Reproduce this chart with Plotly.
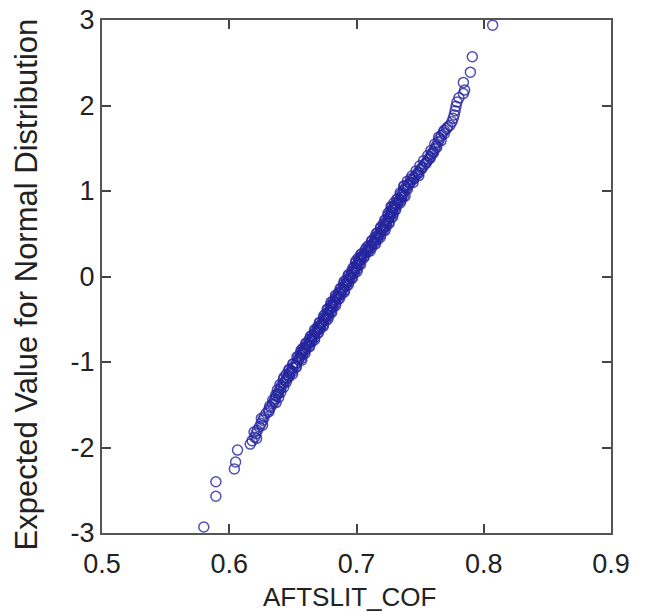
import plotly.graph_objects as go

# Sorted AFTSLIT_COF values (x) and expected normal values (y)
lower_x = [0.580, 0.5895, 0.5895, 0.604, 0.605, 0.6065, 0.6165]
lower_y = [-2.93, -2.57, -2.40, -2.25, -2.17, -2.03, -1.96]

tail_lo_x = [0.618, 0.620, 0.621, 0.622, 0.6236, 0.625, 0.6265, 0.6275, 0.629, 0.631, 0.6325,
             0.634, 0.6355, 0.636, 0.637, 0.6385, 0.639, 0.6405, 0.641, 0.6425, 0.644, 0.6455,
             0.6465, 0.6475, 0.6486, 0.650, 0.6515, 0.653]
tail_lo_y = [-1.92, -1.88, -1.84, -1.80, -1.76, -1.72, -1.68, -1.64, -1.60, -1.56, -1.53,
             -1.49, -1.46, -1.43, -1.40, -1.37, -1.34, -1.31, -1.28, -1.25, -1.22, -1.19,
             -1.16, -1.13, -1.10, -1.07, -1.04, -1.01]

tail_lo2_x = [0.6215, 0.6195, 0.6262, 0.6252, 0.6312, 0.6318, 0.6368, 0.6342, 0.6388, 0.6365,
              0.6405, 0.6378, 0.6428, 0.6398, 0.6448, 0.6425, 0.6470, 0.6448, 0.6495, 0.6470,
              0.6525, 0.6500]
tail_lo2_y = [-1.895, -1.82, -1.74, -1.66, -1.58, -1.515, -1.475, -1.445, -1.415, -1.385,
              -1.355, -1.325, -1.295, -1.265, -1.235, -1.205, -1.175, -1.145, -1.115, -1.085,
              -1.055, -1.025]

mid_x = [0.6545, 0.6552, 0.6561, 0.6570, 0.6581, 0.6590, 0.6603, 0.6615, 0.6628, 0.6641,
         0.6650, 0.6660, 0.6671, 0.6680, 0.6694, 0.6706, 0.6716, 0.6725, 0.6738, 0.6750,
         0.6761, 0.6770, 0.6779, 0.6786, 0.6796, 0.6805, 0.6815, 0.6825, 0.6834, 0.6842,
         0.6856, 0.6870, 0.6882, 0.6893, 0.6902, 0.6910, 0.6921, 0.6930, 0.6940, 0.6951,
         0.6962, 0.6975, 0.6985, 0.6995, 0.7002, 0.7010, 0.7017, 0.7026, 0.7036, 0.7052,
         0.7068, 0.7082, 0.7097, 0.7108, 0.7121, 0.7135, 0.7146, 0.7158, 0.7170, 0.7180,
         0.7192, 0.7203, 0.7214, 0.7224, 0.7233, 0.7242, 0.7252, 0.7260, 0.7267, 0.7274,
         0.7282, 0.7290, 0.7299, 0.7312, 0.7327, 0.7340, 0.7352, 0.7360, 0.7365]
mid_y = [-0.975, -0.950, -0.925, -0.900, -0.875, -0.850, -0.825, -0.800, -0.775, -0.750,
         -0.725, -0.700, -0.675, -0.650, -0.625, -0.600, -0.575, -0.550, -0.525, -0.500,
         -0.475, -0.450, -0.425, -0.400, -0.375, -0.350, -0.325, -0.300, -0.275, -0.250,
         -0.225, -0.200, -0.175, -0.150, -0.125, -0.100, -0.075, -0.050, -0.025, 0.000,
         0.025, 0.050, 0.075, 0.100, 0.125, 0.150, 0.175, 0.200, 0.225, 0.250,
         0.275, 0.300, 0.325, 0.350, 0.375, 0.400, 0.425, 0.450, 0.475, 0.500,
         0.525, 0.550, 0.575, 0.600, 0.625, 0.650, 0.675, 0.700, 0.725, 0.750,
         0.775, 0.800, 0.825, 0.850, 0.875, 0.900, 0.925, 0.950, 0.975]

mid2_x = [0.6565, 0.6542, 0.6580, 0.6562, 0.6600, 0.6580, 0.6625, 0.6605, 0.6650, 0.6628,
          0.6672, 0.6650, 0.6692, 0.6672, 0.6715, 0.6695, 0.6738, 0.6712, 0.6760, 0.6740,
          0.6782, 0.6758, 0.6798, 0.6775, 0.6815, 0.6795, 0.6838, 0.6815, 0.6855, 0.6835,
          0.6880, 0.6860, 0.6905, 0.6880, 0.6922, 0.6898, 0.6942, 0.6918, 0.6962, 0.6940,
          0.6985, 0.6962, 0.7005, 0.6982, 0.7020, 0.6995, 0.7035, 0.7012, 0.7060, 0.7040,
          0.7090, 0.7068, 0.7118, 0.7095, 0.7143, 0.7120, 0.7168, 0.7145, 0.7190, 0.7165,
          0.7212, 0.7188, 0.7235, 0.7210, 0.7255, 0.7230, 0.7272, 0.7248, 0.7288, 0.7262,
          0.7302, 0.7278, 0.7320, 0.7295, 0.7350, 0.7325, 0.7370, 0.7348]
mid2_y = [-0.9625, -0.9375, -0.9125, -0.8875, -0.8625, -0.8375, -0.8125, -0.7875, -0.7625, -0.7375,
          -0.7125, -0.6875, -0.6625, -0.6375, -0.6125, -0.5875, -0.5625, -0.5375, -0.5125, -0.4875,
          -0.4625, -0.4375, -0.4125, -0.3875, -0.3625, -0.3375, -0.3125, -0.2875, -0.2625, -0.2375,
          -0.2125, -0.1875, -0.1625, -0.1375, -0.1125, -0.0875, -0.0625, -0.0375, -0.0125, 0.0125,
          0.0375, 0.0625, 0.0875, 0.1125, 0.1375, 0.1625, 0.1875, 0.2125, 0.2375, 0.2625,
          0.2875, 0.3125, 0.3375, 0.3625, 0.3875, 0.4125, 0.4375, 0.4625, 0.4875, 0.5125,
          0.5375, 0.5625, 0.5875, 0.6125, 0.6375, 0.6625, 0.6875, 0.7125, 0.7375, 0.7625,
          0.7875, 0.8125, 0.8375, 0.8625, 0.8875, 0.9125, 0.9375, 0.9625]

mid3_x = [0.6430, 0.6498, 0.6468, 0.6527, 0.6502, 0.6570, 0.6532, 0.6595, 0.6565, 0.6632,
          0.6602, 0.6670, 0.6638, 0.6700, 0.6672, 0.6740, 0.6708, 0.6775, 0.6742, 0.6805,
          0.6770, 0.6835, 0.6800, 0.6865, 0.6835, 0.6905, 0.6872, 0.6935, 0.6902, 0.6968,
          0.6935, 0.7005, 0.6972, 0.7032, 0.6995, 0.7058, 0.7035, 0.7108, 0.7080, 0.7150,
          0.7120, 0.7188, 0.7155, 0.7225, 0.7192, 0.7256, 0.7222, 0.7285, 0.7247, 0.7308,
          0.7272, 0.7343, 0.7315, 0.7382, 0.7343, 0.7400, 0.7374, 0.7445, 0.7425, 0.7490]
mid3_y = [-1.18, -1.14, -1.10, -1.06, -1.02, -0.98, -0.94, -0.90, -0.86, -0.82,
          -0.78, -0.74, -0.70, -0.66, -0.62, -0.58, -0.54, -0.50, -0.46, -0.42,
          -0.38, -0.34, -0.30, -0.26, -0.22, -0.18, -0.14, -0.10, -0.06, -0.02,
          0.02, 0.06, 0.10, 0.14, 0.18, 0.22, 0.26, 0.30, 0.34, 0.38,
          0.42, 0.46, 0.50, 0.54, 0.58, 0.62, 0.66, 0.70, 0.74, 0.78,
          0.82, 0.86, 0.90, 0.94, 0.98, 1.02, 1.06, 1.10, 1.14, 1.18]

tail_hi_x = [0.7370, 0.7385, 0.7405, 0.7420, 0.7440, 0.7455, 0.7470, 0.7487, 0.7502, 0.7518,
             0.7533, 0.7550, 0.7565, 0.7578, 0.7590, 0.7602, 0.7615, 0.7628, 0.7641, 0.7653,
             0.7667, 0.7683, 0.7708, 0.7735, 0.7750, 0.7760, 0.7768, 0.7775, 0.7782, 0.7790]
tail_hi_y = [1.01, 1.04, 1.07, 1.10, 1.13, 1.16, 1.19, 1.22, 1.25, 1.28,
             1.31, 1.34, 1.37, 1.40, 1.43, 1.46, 1.49, 1.53, 1.57, 1.61,
             1.65, 1.69, 1.73, 1.77, 1.81, 1.85, 1.89, 1.94, 1.99, 2.04]

tail_hi2_x = [0.7392, 0.7372, 0.7418, 0.7400, 0.7450, 0.7435, 0.7485, 0.7468, 0.7515, 0.7498,
              0.7548, 0.7528, 0.7580, 0.7560, 0.7605, 0.7585, 0.7630, 0.7615, 0.7665, 0.7645,
              0.7690, 0.7690, 0.7718]
tail_hi2_y = [1.025, 1.055, 1.085, 1.115, 1.145, 1.175, 1.205, 1.235, 1.265, 1.295,
              1.325, 1.355, 1.385, 1.415, 1.445, 1.475, 1.51, 1.55, 1.59, 1.63,
              1.67, 1.71, 1.75]

upper_x = [0.7805, 0.784, 0.785, 0.784, 0.7895, 0.791, 0.807]
upper_y = [2.09, 2.14, 2.18, 2.27, 2.39, 2.57, 2.94]

x_vals = (lower_x + tail_lo_x + tail_lo2_x + mid_x + mid2_x + mid3_x
          + tail_hi_x + tail_hi2_x + upper_x)
y_vals = (lower_y + tail_lo_y + tail_lo2_y + mid_y + mid2_y + mid3_y
          + tail_hi_y + tail_hi2_y + upper_y)

x_ticks = [0.5, 0.6, 0.7, 0.8, 0.9]
y_ticks = [-3, -2, -1, 0, 1, 2, 3]

FONT = "Liberation Sans, Arial, sans-serif"

fig = go.Figure()
fig.add_trace(go.Scatter(
    x=x_vals, y=y_vals, mode="markers",
    marker=dict(symbol="circle-open", size=10,
                color="rgba(36,36,158,0.8)", line=dict(width=1.5)),
    showlegend=False, cliponaxis=False,
))

axis_common = dict(
    showline=True, linecolor="#555555", linewidth=2, mirror="ticks",
    ticks="inside", ticklen=9, tickwidth=1.5, tickcolor="#444444",
    showgrid=False, zeroline=False, automargin=False,
    tickfont=dict(family=FONT, size=27, color="#222222"),
)

fig.update_layout(
    width=645, height=612,
    margin=dict(l=102, r=34, t=20, b=79),
    paper_bgcolor="white", plot_bgcolor="white",
    xaxis=dict(range=[0.5, 0.9], tickvals=x_ticks, ticktext=[f"{v:.1f}" for v in x_ticks],
               ticklabelstandoff=6, **axis_common),
    yaxis=dict(range=[-3, 3], tickvals=y_ticks, ticktext=[str(v) for v in y_ticks],
               **axis_common),
    annotations=[
        dict(text="AFTSLIT_COF", xref="paper", yref="paper", x=0.487, y=-0.1248,
             xanchor="center", yanchor="middle", showarrow=False,
             font=dict(family=FONT, size=26, color="#222222")),
        dict(text="Expected Value for Normal Distribution", xref="paper", yref="paper",
             x=-0.1493, y=0.4844, textangle=-90, xanchor="center", yanchor="middle",
             showarrow=False, font=dict(family=FONT, size=31, color="#222222")),
    ],
)

fig.write_html("out.html")
